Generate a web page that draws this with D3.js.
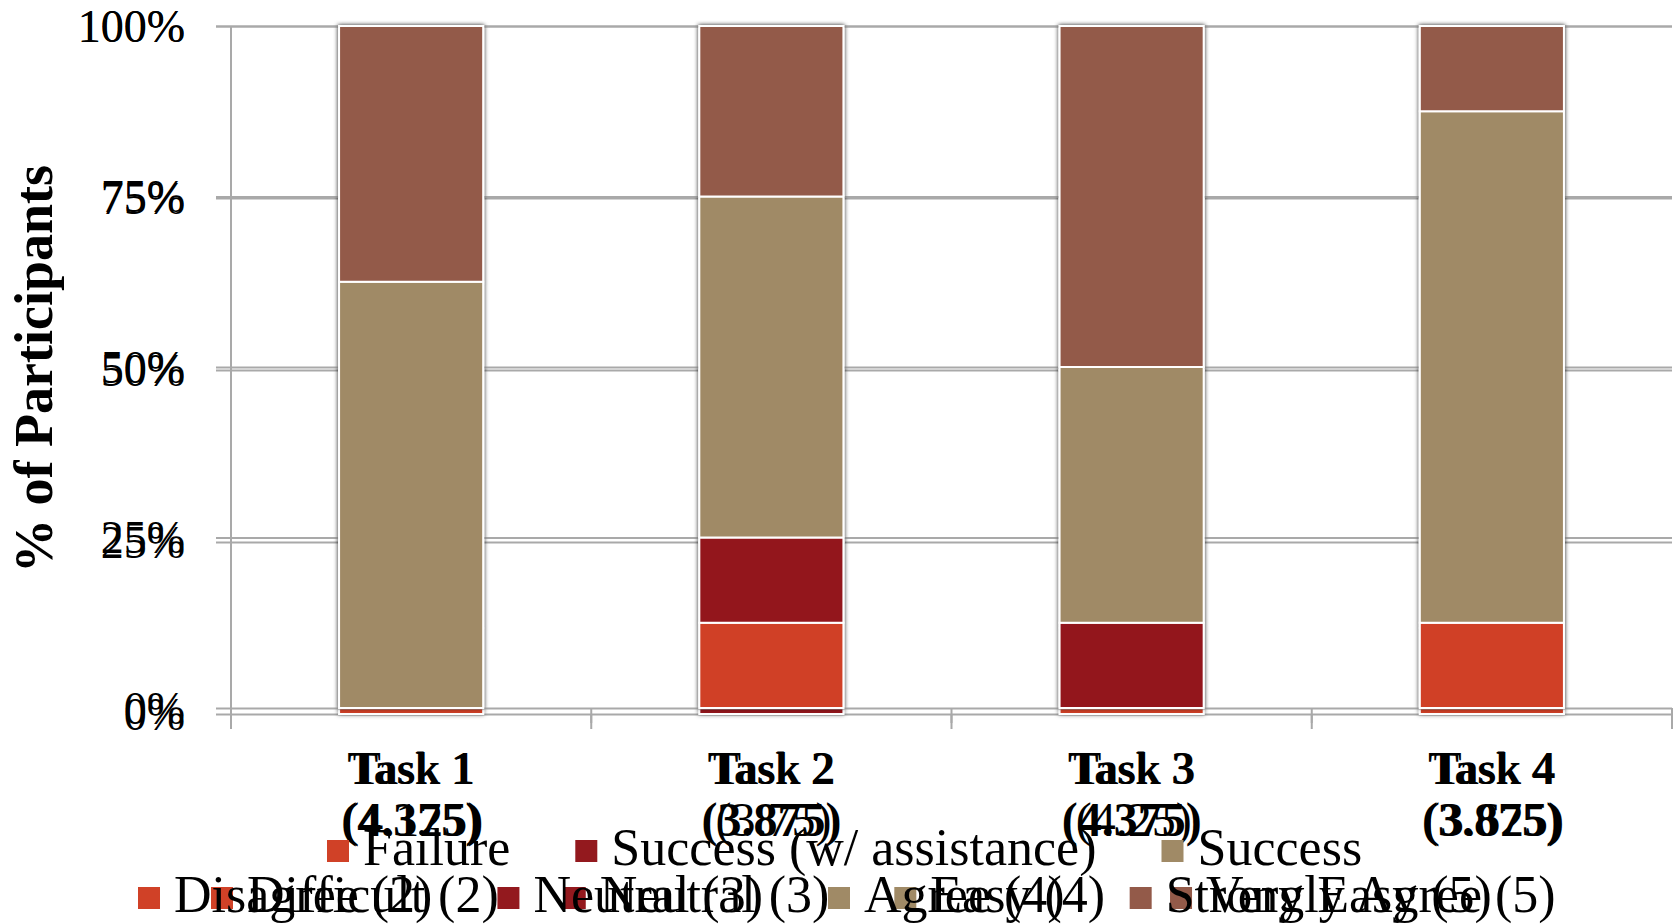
<!DOCTYPE html>
<html>
<head>
<meta charset="utf-8">
<script src="https://cdn.jsdelivr.net/npm/d3@7"></script>
<style>
  html, body { margin: 0; padding: 0; background: #fff; }
  svg { display: block; }
  text { font-family: "Liberation Serif", "DejaVu Serif", serif; fill: #000; }
</style>
</head>
<body>
<svg id="chart" width="1677" height="924"></svg>
<script>
// ---- data -------------------------------------------------------------
const tasks = ["Task 1", "Task 2", "Task 3", "Task 4"];
const scoreValues = [2, 3, 4, 5];

// Agreement ratings, % of participants per level (2..5)
const agreeKeys = ["Disagree (2)", "Neutral (3)", "Agree (4)", "Strongly Agree (5)"];
const agreeDisagree = [0, 12.5, 0, 12.5];
const agreeNeutral  = [0, 12.5, 12.5, 0];
const agreeAgree    = [62.5, 50, 37.5, 75];
const agreeStrong   = [37.5, 25, 50, 12.5];

// Ease ratings, % of participants per level (2..5)
const easeKeys = ["Difficult (2)", "Neutral (3)", "Easy (4)", "Very Easy (5)"];
const easeDifficult = [12.5, 0, 12.5, 12.5];
const easeNeutral   = [0, 25, 0, 12.5];
const easeEasy      = [50, 75, 37.5, 75];
const easeVeryEasy  = [37.5, 0, 50, 0];

// Task completion key
const successKeys = ["Failure", "Success (w/ assistance)", "Success"];

const yTicks = [0, 25, 50, 75, 100];
const palette = ["#d04127", "#93191e", "#a08a66", "#935a49"];

// ---- layout -----------------------------------------------------------
const svg = d3.select("#chart");
const plotLeft = 231, plotRight = 1672, gridLeft = 216;

const x = d3.scaleBand().domain(tasks).range([plotLeft, plotRight])
  .paddingInner(0.6).paddingOuter(0.3);
const yFront = d3.scaleLinear().domain([0, 100]).range([708, 26]);
const yBack  = d3.scaleLinear().domain([0, 100]).range([714, 26]);

const defs = svg.append("defs");
defs.append("filter").attr("id", "barShadow")
  .attr("x", "-10%").attr("y", "-5%").attr("width", "120%").attr("height", "110%")
  .append("feDropShadow")
  .attr("dx", 0).attr("dy", 0).attr("stdDeviation", 2)
  .attr("flood-color", "#000").attr("flood-opacity", 0.5);

function buildRows(cols) {
  return tasks.map((t, i) => {
    const row = { task: t };
    cols.forEach((c, k) => { row[k] = c[i]; });
    return row;
  });
}
function meanScore(row) {
  return scoreValues.reduce((s, v, k) => s + v * row[k], 0) / 100;
}
const fmtMean = d3.format(".3~f");

function drawLayer(cols, y, opts) {
  const g = svg.append("g");
  // gridlines and percentage labels
  const axis = d3.axisLeft(y).tickValues(yTicks)
    .tickFormat(d => d + "%")
    .tickSize(-(plotRight - gridLeft)).tickPadding(31);
  const ga = g.append("g").attr("transform", `translate(${gridLeft},0)`).call(axis);
  ga.select(".domain").remove();
  ga.selectAll(".tick line").attr("stroke", "#a9a9a9").attr("stroke-width", 2);
  ga.selectAll(".tick text")
    .attr("font-family", "'Liberation Serif', serif")
    .attr("font-size", 46).attr("fill", "#000").attr("dy", "0.33em");

  // vertical axis line and category separators
  g.append("line").attr("x1", plotLeft).attr("x2", plotLeft)
    .attr("y1", y(100)).attr("y2", y(0) + 15)
    .attr("stroke", "#a9a9a9").attr("stroke-width", 2);
  const bounds = d3.range(tasks.length + 1).map(i => plotLeft + i * x.step());
  g.selectAll("line.sep").data(bounds).join("line").attr("class", "sep")
    .attr("x1", d => d).attr("x2", d => d)
    .attr("y1", y(0)).attr("y2", y(0) + 15)
    .attr("stroke", "#a9a9a9").attr("stroke-width", 2);

  // stacked bars
  const rows = buildRows(cols);
  const series = d3.stack().keys(d3.range(cols.length))(rows);
  const gb = g.append("g").attr("filter", "url(#barShadow)");
  gb.selectAll("g").data(series).join("g")
    .attr("fill", (d, i) => palette[i])
    .selectAll("rect").data(d => d).join("rect")
    .attr("x", d => x(d.data.task))
    .attr("width", x.bandwidth())
    .attr("y", d => y(d[1]))
    .attr("height", d => y(d[0]) - y(d[1]))
    .attr("stroke", "#fff").attr("stroke-width", 2);

  // category labels with mean score
  const lab = g.selectAll("text.cat").data(rows).join("text").attr("class", "cat")
    .attr("text-anchor", "middle")
    .attr("font-weight", opts.weight)
    .attr("transform", d => `translate(${x(d.task) + x.bandwidth() / 2 + opts.dx},0)`);
  lab.append("tspan").attr("x", 0).attr("y", 784).attr("font-size", 46).text(d => d.task);
  lab.append("tspan").attr("x", 0).attr("y", 836).attr("font-size", 48)
    .text(d => "(" + fmtMean(meanScore(d)) + ")");
}

// ease chart underneath, agreement chart on top
drawLayer([easeDifficult, easeNeutral, easeEasy, easeVeryEasy], yBack, { weight: "normal", dx: 2 });
drawLayer([agreeDisagree, agreeNeutral, agreeAgree, agreeStrong], yFront, { weight: "bold", dx: 0 });

// y axis title
svg.append("text")
  .attr("transform", "translate(52,369) rotate(-90)")
  .attr("text-anchor", "middle")
  .attr("font-weight", "bold").attr("font-size", 54)
  .text("% of Participants");

// legends
function drawLegend(keys, startX, baseY, colors) {
  const g = svg.append("g");
  let cx = startX;
  keys.forEach((k, i) => {
    g.append("rect").attr("x", cx).attr("y", baseY - 25).attr("width", 22).attr("height", 22)
      .attr("fill", colors[i]);
    const t = g.append("text").attr("x", cx + 36).attr("y", baseY)
      .attr("font-size", 52).text(k);
    cx += 36 + t.node().getComputedTextLength() + 65;
  });
}
drawLegend(successKeys, 327, 865, palette);
drawLegend(easeKeys, 211, 912, palette);
drawLegend(agreeKeys, 138, 912, palette);
</script>
</body>
</html>
